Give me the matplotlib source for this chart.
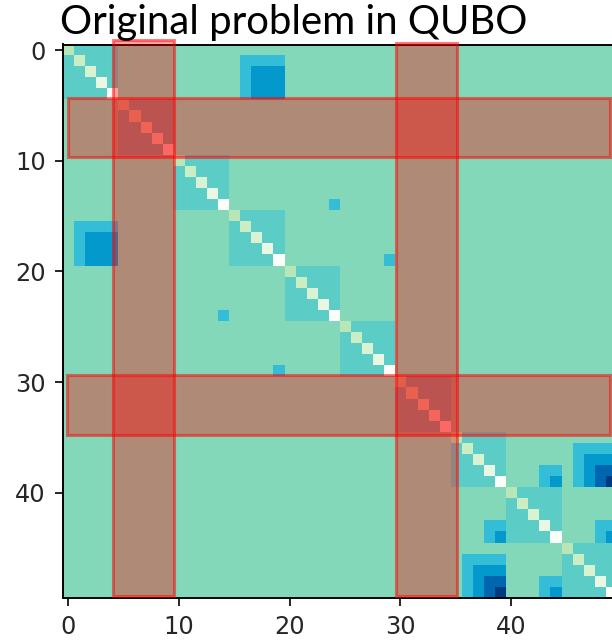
import numpy as np
import matplotlib
matplotlib.use("Agg")
import matplotlib.pyplot as plt
from matplotlib.colors import ListedColormap, BoundaryNorm
from matplotlib.patches import Rectangle

# ---- data ----
n_vars = 50
group_starts = [0, 5, 10, 15, 20, 25, 30, 35, 40, 45]
group_size = 5
group_value = 1          # penalty inside each one-hot group

diag_values = [
    -1, -2, -3, -4, -5,
    -1, -2, -3, -4, -5,
    -1, -2, -3, -4, -5,
    -1, -2, -3, -4, -5,
    -1, -2, -3, -4, -5,
    -1, -2, -3, -4, -5,
    -1, -2, -3, -4, -5,
    -1, -2, -3, -4, -5,
    -1, -2, -3, -4, -5,
    -1, -2, -3, -4, -5,
]

# upper triangle couplings (row0, row1, col0, col1, value); later rows overwrite
coupling_blocks = [
    (1, 4, 16, 19, 2),
    (2, 4, 17, 19, 3),
    (14, 14, 24, 24, 2),
    (19, 19, 29, 29, 2),
    (36, 39, 46, 49, 2),
    (37, 39, 47, 49, 3),
    (38, 39, 48, 49, 4),
    (39, 39, 49, 49, 5),
    (38, 39, 43, 44, 2),
    (39, 39, 44, 44, 3),
    (43, 44, 48, 49, 2),
    (44, 44, 49, 49, 3),
]

levels = [-5, -4, -3, -2, -1, 0, 1, 2, 3, 4, 5]
level_colors = ['#fbfef8', '#e8f8e3', '#d9f2d2', '#caedc4', '#b9e6b6',
                '#82d8b9', '#5ccdc6', '#33bdd6', '#0399cc', '#0066b0', '#003a80']

# highlighted variables (x0, x1, y0, y1) in matrix coordinates
highlight_boxes = [
    (4.04, 9.55, -0.9, 49.3),
    (29.6, 35.1, -0.66, 49.3),
    (-0.02, 48.9, 4.36, 9.69),
    (-0.11, 48.9, 29.36, 34.78),
]

title = "Original problem in QUBO"

# ---- build matrix ----
Q = np.zeros((n_vars, n_vars))
for s in group_starts:
    Q[s:s + group_size, s:s + group_size] = group_value
for r0, r1, c0, c1, v in coupling_blocks:
    Q[r0:r1 + 1, c0:c1 + 1] = v
    Q[c0:c1 + 1, r0:r1 + 1] = v
Q[np.arange(n_vars), np.arange(n_vars)] = diag_values

cmap = ListedColormap(level_colors)
norm = BoundaryNorm(np.array(levels + [levels[-1] + 1]) - 0.5, cmap.N)

# ---- plot ----
k = 1.73  # everything drawn as an enlarged default figure
plt.rcParams['font.family'] = ['DejaVu Sans']
plt.rcParams['font.size'] = 10 * k
plt.rcParams['axes.linewidth'] = 0.8 * k
for a in ('xtick', 'ytick'):
    plt.rcParams[a + '.major.size'] = 3.5 * k
    plt.rcParams[a + '.major.width'] = 0.8 * k
    plt.rcParams[a + '.major.pad'] = 3.5 * k
    plt.rcParams[a + '.color'] = '#222222'
    plt.rcParams[a + '.labelcolor'] = '#262626'

W, H = 612, 643
fig = plt.figure(figsize=(W / 100, H / 100), dpi=100)
ax = fig.add_axes([62.5 / W, (H - 598) / H, 554 / W, 553.5 / H])
ax.imshow(Q, cmap=cmap, norm=norm, interpolation='nearest', aspect='auto')
ax.set_xticks([0, 10, 20, 30, 40])
ax.set_yticks([0, 10, 20, 30, 40])

for x0, x1, y0, y1 in highlight_boxes:
    ax.add_patch(Rectangle((x0, y0), x1 - x0, y1 - y0,
                           facecolor=(1, 0, 0, 0.36), edgecolor=(1, 0, 0, 0.5),
                           linewidth=2.2, clip_on=False, zorder=3))

t = fig.text(60.5 / W, (H - 34) / H, title, family=['Lato', 'DejaVu Sans'],
             fontsize=30, ha='left', va='baseline', color='black')
fig.canvas.draw()
w = t.get_window_extent().width
t.set_fontsize(30 * 466 / w)

fig.savefig('out.png', dpi=100)
